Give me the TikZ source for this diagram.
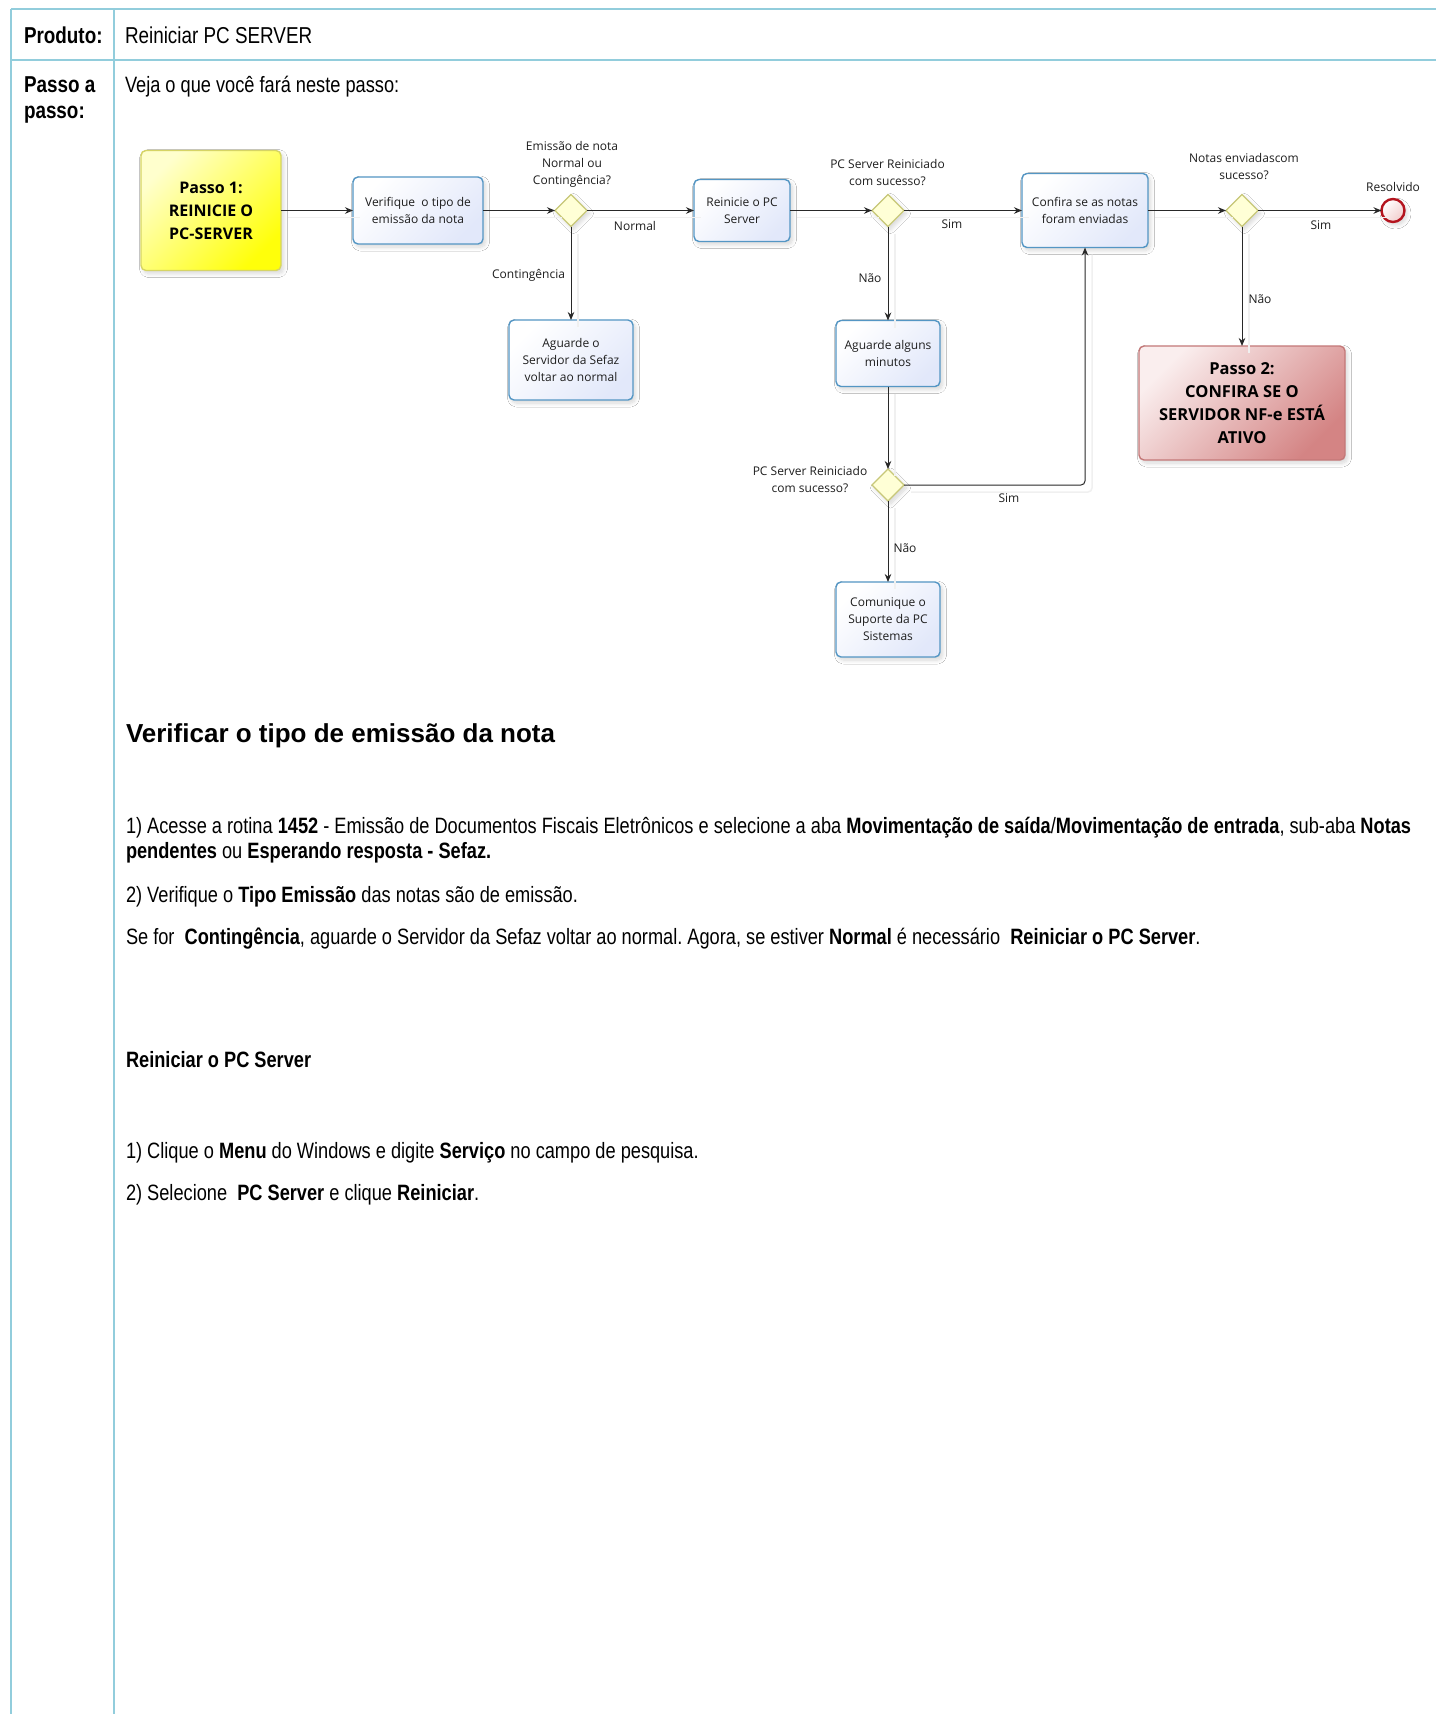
\documentclass[tikz,border=0pt]{standalone}
\usepackage{fontspec}
\setmainfont{Liberation Sans}
\newfontfamily\narrowfont{Liberation Sans}[FakeStretch=0.82]
\newfontfamily\diafont{Open Sans}
\usetikzlibrary{arrows.meta,shapes.geometric,shadows.blur}

\definecolor{tblline}{RGB}{146,205,220}
\definecolor{taskborder}{RGB}{84,150,196}
\definecolor{taskfill}{RGB}{226,232,250}
\definecolor{p1border}{RGB}{214,212,100}
\definecolor{p1light}{RGB}{255,255,205}
\definecolor{p1dark}{RGB}{255,255,10}
\definecolor{p2border}{RGB}{196,120,120}
\definecolor{p2light}{RGB}{250,238,238}
\definecolor{p2dark}{RGB}{212,132,132}
\definecolor{gateborder}{RGB}{200,200,120}
\definecolor{gatefill}{RGB}{255,255,214}
\definecolor{endborder}{RGB}{180,20,30}
\definecolor{endfill}{RGB}{242,205,205}
\definecolor{connc}{RGB}{40,40,40}
\definecolor{diatext}{RGB}{30,30,30}

\frenchspacing
\begin{document}
\frenchspacing
\begin{tikzpicture}[x=1pt,y=-1pt,
  every node/.style={inner sep=0pt, outer sep=0pt},
  tbl/.style={draw=tblline, line width=2pt},
  hdr/.style={font=\narrowfont\fontsize{23}{26}\selectfont, anchor=base west},
  body/.style={font=\narrowfont\fontsize{22.2}{25}\selectfont, anchor=base west},
  heading/.style={font=\bfseries\fontsize{26}{30}\selectfont, anchor=base west},
  shad/.style={blur shadow={shadow xshift=2.5pt, shadow yshift=-3pt, shadow opacity=16, shadow blur radius=4pt, shadow blur steps=8}},
  boxbase/.style={rounded corners=5pt, align=center, text=diatext, shad},
  task/.style={boxbase, draw=taskborder, line width=1.4pt, top color=white, bottom color=taskfill, shading angle=45, font=\diafont\fontsize{12}{17}\selectfont},
  passoa/.style={boxbase, draw=p1border, line width=1.4pt, top color=p1light, bottom color=p1dark, shading angle=45, font=\diafont\bfseries\fontsize{16}{23}\selectfont, text=black},
  passob/.style={boxbase, draw=p2border, line width=1.4pt, top color=p2light, bottom color=p2dark, shading angle=45, font=\diafont\bfseries\fontsize{16.5}{23}\selectfont, text=black},
  gate/.style={diamond, draw=gateborder, line width=1.2pt, fill=gatefill, minimum width=32pt, minimum height=32pt, shad},
  endev/.style={circle, draw=endborder, line width=2.4pt, top color=white, bottom color=endfill, shading angle=45, minimum size=23pt, shad},
  lbl/.style={font=\diafont\fontsize{12}{17}\selectfont, text=diatext, align=center},
  conn/.style={draw=connc, line width=1pt, -{Stealth[length=8pt,width=6.5pt]},
    preaction={-, draw=black!6, line width=1.5pt, transform canvas={xshift=7pt,yshift=-7pt}}}
]
\useasboundingbox (0,0) rectangle (1436,1714);
\fill[white] (0,0) rectangle (1436,1714);

% table
\draw[tbl] (11,9) -- (1436,9);
\draw[tbl] (11,60) -- (1436,60);
\draw[tbl] (11,9) -- (11,1714);
\draw[tbl] (114,9) -- (114,1714);

\node[hdr] (prod) at (24,43) {\textbf{Produto:}};
\node[hdr] (prodv) at (125,43) {Reiniciar PC SERVER};
\node[hdr] (passoa1) at (24,92) {\textbf{Passo a}};
\node[hdr] (passoa2) at (24,118) {\textbf{passo:}};
\node[hdr, font=\narrowfont\fontsize{22.2}{26}\selectfont] (veja) at (125,92) {Veja o que você fará neste passo:};

% diagram nodes
\node[passoa, minimum width=140pt, minimum height=120pt] (p1) at (211,210.5) {Passo 1:\\REINICIE O\\PC-SERVER};
\node[task, minimum width=130pt, minimum height=67pt] (verif) at (418,210.5) {Verifique\ \ o tipo de\\emissão da nota};
\node[gate] (d1) at (571,210.5) {};
\node[task, minimum width=124pt, minimum height=80pt] (aguarde) at (571,360) {Aguarde o\\Servidor da Sefaz\\voltar ao normal};
\node[task, minimum width=96pt, minimum height=62pt] (reinicie) at (742,210.5) {Reinicie o PC\\Server};
\node[gate] (d2) at (888,210.5) {};
\node[task, minimum width=104pt, minimum height=66pt] (alguns) at (888,353.5) {Aguarde alguns\\minutos};
\node[task, minimum width=126pt, minimum height=74pt] (confira) at (1085,210.5) {Confira se as notas\\foram enviadas};
\node[gate] (d3) at (1242,210.5) {};
\node[endev] (fim) at (1393,210.5) {};
\node[passob, minimum width=206pt, minimum height=114pt] (p2) at (1242,403) {Passo 2:\\CONFIRA SE O\\SERVIDOR NF-e ESTÁ\\ATIVO};
\node[gate] (d4) at (888,485) {};
\node[task, minimum width=104pt, minimum height=75pt] (comunique) at (888,619.5) {Comunique o\\Suporte da PC\\Sistemas};

% connectors
\draw[conn] (p1) -- (verif);
\draw[conn] (verif) -- (d1);
\draw[conn] (d1) -- (reinicie);
\draw[conn] (d1) -- (aguarde);
\draw[conn] (reinicie) -- (d2);
\draw[conn] (d2) -- (confira);
\draw[conn] (d2) -- (alguns);
\draw[conn] (alguns) -- (d4);
\draw[conn, rounded corners=4pt] (d4) -| (confira);
\draw[conn] (d4) -- (comunique);
\draw[conn] (confira) -- (d3);
\draw[conn] (d3) -- (fim);
\draw[conn] (d3) -- (p2);

% labels
\node[lbl] (q1) at (572,164) {Emissão de nota\\Normal ou\\Contingência?};
\node[lbl] (lnormal) at (635,226) {Normal};
\node[lbl, anchor=east] (lconting) at (565,275) {Contingência};
\node[lbl] (q2) at (887.5,173) {PC Server Reiniciado\\com sucesso?};
\node[lbl] (lsim1) at (952,224) {Sim};
\node[lbl] (lnao1) at (870,278) {Não};
\node[lbl] (q3) at (1244,167) {Notas enviadascom\\sucesso?};
\node[lbl] (lres) at (1393,187) {Resolvido};
\node[lbl] (lsim2) at (1321,225) {Sim};
\node[lbl] (lnao2) at (1260,299) {Não};
\node[lbl] (q4) at (810,480) {PC Server Reiniciado\\com sucesso?};
\node[lbl] (lsim3) at (1009,498) {Sim};
\node[lbl] (lnao3) at (905,548) {Não};

% text
\node[heading] (h1) at (126,742) {Verificar o tipo de emissão da nota};
\node[body] (t1) at (126,833) {1) Acesse a rotina \textbf{1452} - Emissão de Documentos Fiscais Eletrônicos e selecione a aba \textbf{Movimentação de saída}/\textbf{Movimentação de entrada}, sub-aba \textbf{Notas}};
\node[body] (t2) at (126,858) {\textbf{pendentes} ou \textbf{Esperando resposta - Sefaz.}};
\node[body] (t3) at (126,902) {2) Verifique o \textbf{Tipo Emissão} das notas são de emissão.};
\node[body] (t4) at (126,944) {Se for\ \ \textbf{Contingência}, aguarde o Servidor da Sefaz voltar ao normal. Agora, se estiver \textbf{Normal} é necessário\ \ \textbf{Reiniciar o PC Server}.};
\node[body] (t5) at (126,1067) {\textbf{Reiniciar o PC Server}};
\node[body] (t6) at (126,1158) {1) Clique o \textbf{Menu} do Windows e digite \textbf{Serviço} no campo de pesquisa.};
\node[body] (t7) at (126,1200) {2) Selecione\ \ \textbf{PC Server} e clique \textbf{Reiniciar}.};
\end{tikzpicture}
\end{document}
